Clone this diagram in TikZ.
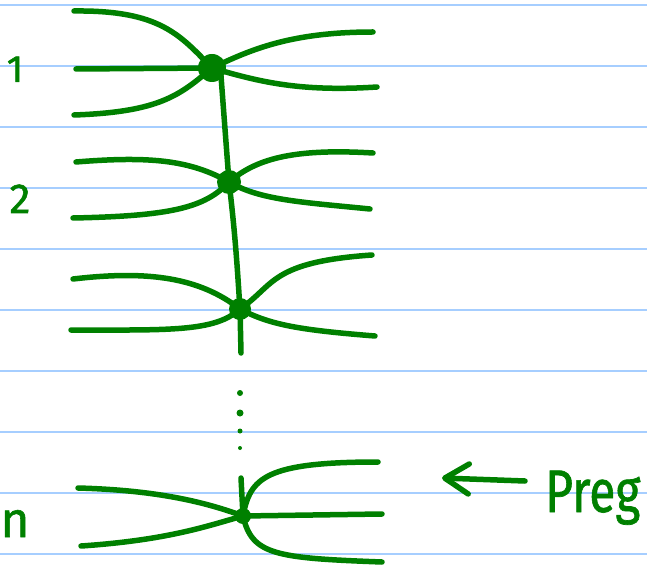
\documentclass[tikz,border=0pt]{standalone}
\usepackage{fontspec}
\setmainfont{Fira Sans}[FakeBold=1.2]
\usetikzlibrary{arrows.meta}
\definecolor{pen}{RGB}{0,128,0}
\definecolor{rule}{RGB}{166,206,255}
\tikzset{
  ink/.style={draw=pen, line width=5.5pt, line cap=round, line join=round},
  ruled/.style={draw=rule, line width=1.6pt},
  knot/.style={circle, fill=pen, inner sep=0pt, minimum size=#1},
  speck/.style={circle, fill=pen, inner sep=0pt, minimum size=#1},
  lbl/.style={text=pen, font=\fontsize{#1}{#1}\selectfont, inner sep=0pt, anchor=base}
}
\begin{document}
\begin{tikzpicture}[x=1pt,y=-1pt]
\useasboundingbox (0,0) rectangle (647,569);
% ruled lines
\foreach \yy in {5,66,127,188,249,310,371,432,493,554}
  \draw[ruled] (0,\yy) -- (647,\yy);

% knot positions
\coordinate (n1) at (212,68);
\coordinate (n2) at (229,182);
\coordinate (n3) at (240,309);
\coordinate (nn) at (243,516);

% free ends
\coordinate (a1) at (74,11);
\coordinate (b1) at (76,69);
\coordinate (c1) at (74,115);
\coordinate (d1) at (373,32);
\coordinate (e1) at (377,87);
\coordinate (a2) at (76,162);
\coordinate (c2) at (73,218);
\coordinate (d2) at (373,153);
\coordinate (e2) at (370,209);
\coordinate (a3) at (73,279);
\coordinate (c3) at (71,330);
\coordinate (d3) at (372,255);
\coordinate (e3) at (375,336);
\coordinate (f3) at (241,353);
\coordinate (an) at (78,488);
\coordinate (cn) at (81,546);
\coordinate (dn) at (378,462);
\coordinate (mn) at (382,514);
\coordinate (en) at (382,562);
\coordinate (tn) at (241,478);
\coordinate (v1) at (221,76);

% strand 1
\draw[ink] (a1) .. controls (160,10) and (180,35) .. (n1);
\draw[ink] (b1) -- (n1);
\draw[ink] (c1) .. controls (160,112) and (180,95) .. (n1);
\draw[ink] (n1) .. controls (250,50) and (290,32) .. (d1);
\draw[ink] (n1) .. controls (260,82) and (300,92) .. (e1);
\draw[ink] (v1) -- (n2);

% strand 2
\draw[ink] (a2) .. controls (150,156) and (190,160) .. (n2);
\draw[ink] (c2) .. controls (170,216) and (205,208) .. (n2);
\draw[ink] (n2) .. controls (255,160) and (290,148) .. (d2);
\draw[ink] (n2) .. controls (260,200) and (300,202) .. (e2);
\draw[ink] (n2) .. controls (236,240) and (238,280) .. (n3);

% strand 3
\draw[ink] (a3) .. controls (150,270) and (200,278) .. (n3);
\draw[ink] (c3) .. controls (170,330) and (215,332) .. (n3);
\draw[ink] (n3) .. controls (275,285) and (270,262) .. (d3);
\draw[ink] (n3) .. controls (270,325) and (300,330) .. (e3);
\draw[ink] (n3) -- (f3);

% strand n
\draw[ink] (an) .. controls (150,490) and (200,500) .. (nn);
\draw[ink] (cn) .. controls (170,540) and (210,525) .. (nn);
\draw[ink] (nn) .. controls (250,478) and (265,462) .. (dn);
\draw[ink] (nn) -- (mn);
\draw[ink] (nn) .. controls (252,555) and (275,558) .. (en);
\draw[ink] (tn) -- (nn);

% knots on top
\node[knot=28pt] (k1) at (n1) {};
\node[knot=24pt] (k2) at (n2) {};
\node[knot=22pt] (k3) at (n3) {};
\node[knot=16pt] (kn) at (nn) {};

% vertical dots
\node[speck=6pt] (s1) at (240,393) {};
\node[speck=7pt] (s2) at (240,413) {};
\node[speck=5pt] (s3) at (240,431) {};
\node[speck=4pt] (s4) at (240,448) {};

% labels
\node[lbl=38] (l1) at (15,82) {1};
\node[lbl=42] (l2) at (20,213) {2};
\node[lbl=50] (ln) at (15,537) {n};
\node[lbl=60, anchor=base west, xscale=0.8] (preg) at (545,512) {Preg};

% arrow to Preg
\coordinate (as) at (525,481);
\coordinate (at) at (442,478);
\draw[ink, -{Straight Barb[length=24pt, width=30pt, line cap=round, line join=round]}] (as) -- (at);
\end{tikzpicture}
\end{document}
